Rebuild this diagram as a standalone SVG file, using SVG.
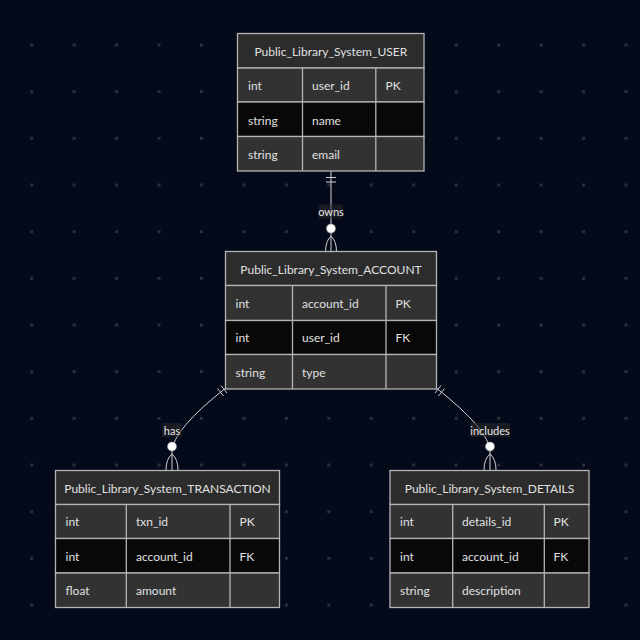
<svg xmlns="http://www.w3.org/2000/svg" width="640" height="640" viewBox="0 0 640 640">
  <defs>
    <pattern id="dots" x="30.2" y="43.5" width="42.45" height="46.67" patternUnits="userSpaceOnUse">
      <rect x="0" y="0" width="3" height="3" fill="#2a2e3c"/>
    </pattern>
    <style>
      .hdr { fill: #2c2c2c; stroke: #b4b4b4; stroke-width: 1.3; }
      .odd { fill: #323232; stroke: #b4b4b4; stroke-width: 1.3; }
      .even { fill: #080808; stroke: #b4b4b4; stroke-width: 1.3; }
      .col { stroke: #b4b4b4; stroke-width: 1.3; }
      .title { font-family: Lato, "Open Sans", sans-serif; font-size: 12px; fill: #e0e0e0; text-anchor: middle; dominant-baseline: central; }
      .cell { font-family: Lato, "Open Sans", sans-serif; font-size: 12px; fill: #e0e0e0; dominant-baseline: central; }
      .rel { fill: none; stroke: #d0d0d0; stroke-width: 1; }
      .dot { fill: #ffffff; stroke: #9a9a9a; stroke-width: 0.6; }
      .lblbg { fill: #2a2a2a; fill-opacity: 0.55; }
      .lbl { font-family: Lato, "Open Sans", sans-serif; font-size: 11px; fill: #e6e6e6; text-anchor: middle; dominant-baseline: central; }
    </style>
  </defs>

  <rect width="640" height="640" fill="#050a1a"/>
  <rect width="640" height="640" fill="url(#dots)"/>

  <!-- relationships -->
  <g id="connectors">
    <!-- USER owns ACCOUNT -->
    <path class="rel" d="M331,171 L331,252"/>
    <path class="rel" d="M326,177.5 L336,177.5 M326,182 L336,182"/>
    <path class="rel" d="M331,236 Q325.5,241 325.5,252 M331,236 Q336.5,241 336.5,252"/>
    <circle class="dot" cx="331" cy="228.5" r="4.5"/>
    <rect class="lblbg" x="319" y="204.5" width="24" height="14"/>
    <text class="lbl" x="331" y="211.5">owns</text>

    <!-- ACCOUNT has TRANSACTION -->
    <path class="rel" d="M227,387 Q172,430 172,452 L172,470"/>
    <path class="rel" d="M217.5,388.5 L223.5,396 M221,385.5 L227,393"/>
    <path class="rel" d="M172,454 Q166,459 166,470 M172,454 Q178,459 178,470"/>
    <circle class="dot" cx="172" cy="446.5" r="4.5"/>
    <rect class="lblbg" x="162" y="423" width="20" height="14"/>
    <text class="lbl" x="172" y="430">has</text>

    <!-- ACCOUNT includes DETAILS -->
    <path class="rel" d="M435,387 Q490,430 490,452 L490,470"/>
    <path class="rel" d="M444.5,388.5 L438.5,396 M441,385.5 L435,393"/>
    <path class="rel" d="M490,454 Q484,459 484,470 M490,454 Q496,459 496,470"/>
    <circle class="dot" cx="490" cy="446.5" r="4.5"/>
    <rect class="lblbg" x="470" y="423" width="40" height="14"/>
    <text class="lbl" x="490" y="430">includes</text>
  </g>

  <!-- USER -->
  <g id="user">
    <rect class="hdr" x="237.5" y="33.5" width="186.5" height="34.5"/>
    <rect class="odd" x="237.5" y="68" width="186.5" height="34"/>
    <rect class="even" x="237.5" y="102" width="186.5" height="34.5"/>
    <rect class="odd" x="237.5" y="136.5" width="186.5" height="34.5"/>
    <path class="col" d="M302.5,68 V171 M375.8,68 V171"/>
    <text class="title" x="330.8" y="51">Public_Library_System_USER</text>
    <text class="cell" x="248" y="85.5">int</text>
    <text class="cell" x="312" y="85.5">user_id</text>
    <text class="cell" x="385.5" y="85.5">PK</text>
    <text class="cell" x="248" y="120">string</text>
    <text class="cell" x="312" y="120">name</text>
    <text class="cell" x="248" y="154.5">string</text>
    <text class="cell" x="312" y="154.5">email</text>
  </g>

  <!-- ACCOUNT -->
  <g id="account">
    <rect class="hdr" x="225.5" y="251.5" width="211" height="34"/>
    <rect class="odd" x="225.5" y="285.5" width="211" height="35"/>
    <rect class="even" x="225.5" y="320.5" width="211" height="34"/>
    <rect class="odd" x="225.5" y="354.5" width="211" height="34.5"/>
    <path class="col" d="M292.5,285.5 V389 M386,285.5 V389"/>
    <text class="title" x="331" y="269">Public_Library_System_ACCOUNT</text>
    <text class="cell" x="235.5" y="303">int</text>
    <text class="cell" x="302" y="303">account_id</text>
    <text class="cell" x="395.5" y="303">PK</text>
    <text class="cell" x="235.5" y="337.5">int</text>
    <text class="cell" x="302" y="337.5">user_id</text>
    <text class="cell" x="395.5" y="337.5">FK</text>
    <text class="cell" x="235.5" y="372">string</text>
    <text class="cell" x="302" y="372">type</text>
  </g>

  <!-- TRANSACTION -->
  <g id="transaction">
    <rect class="hdr" x="55.5" y="470.5" width="224" height="34"/>
    <rect class="odd" x="55.5" y="504.5" width="224" height="34"/>
    <rect class="even" x="55.5" y="538.5" width="224" height="34.5"/>
    <rect class="odd" x="55.5" y="573" width="224" height="34.5"/>
    <path class="col" d="M126.3,504.5 V607.5 M230,504.5 V607.5"/>
    <text class="title" x="167.5" y="488">Public_Library_System_TRANSACTION</text>
    <text class="cell" x="65.5" y="521.5">int</text>
    <text class="cell" x="136" y="521.5">txn_id</text>
    <text class="cell" x="239.5" y="521.5">PK</text>
    <text class="cell" x="65.5" y="556">int</text>
    <text class="cell" x="136" y="556">account_id</text>
    <text class="cell" x="239.5" y="556">FK</text>
    <text class="cell" x="65.5" y="590.5">float</text>
    <text class="cell" x="136" y="590.5">amount</text>
  </g>

  <!-- DETAILS -->
  <g id="details">
    <rect class="hdr" x="390" y="470.5" width="199" height="34"/>
    <rect class="odd" x="390" y="504.5" width="199" height="34"/>
    <rect class="even" x="390" y="538.5" width="199" height="34.5"/>
    <rect class="odd" x="390" y="573" width="199" height="34.5"/>
    <path class="col" d="M452.7,504.5 V607.5 M544.3,504.5 V607.5"/>
    <text class="title" x="489.5" y="488">Public_Library_System_DETAILS</text>
    <text class="cell" x="400" y="521.5">int</text>
    <text class="cell" x="462" y="521.5">details_id</text>
    <text class="cell" x="553.5" y="521.5">PK</text>
    <text class="cell" x="400" y="556">int</text>
    <text class="cell" x="462" y="556">account_id</text>
    <text class="cell" x="553.5" y="556">FK</text>
    <text class="cell" x="400" y="590.5">string</text>
    <text class="cell" x="462" y="590.5">description</text>
  </g>
</svg>
